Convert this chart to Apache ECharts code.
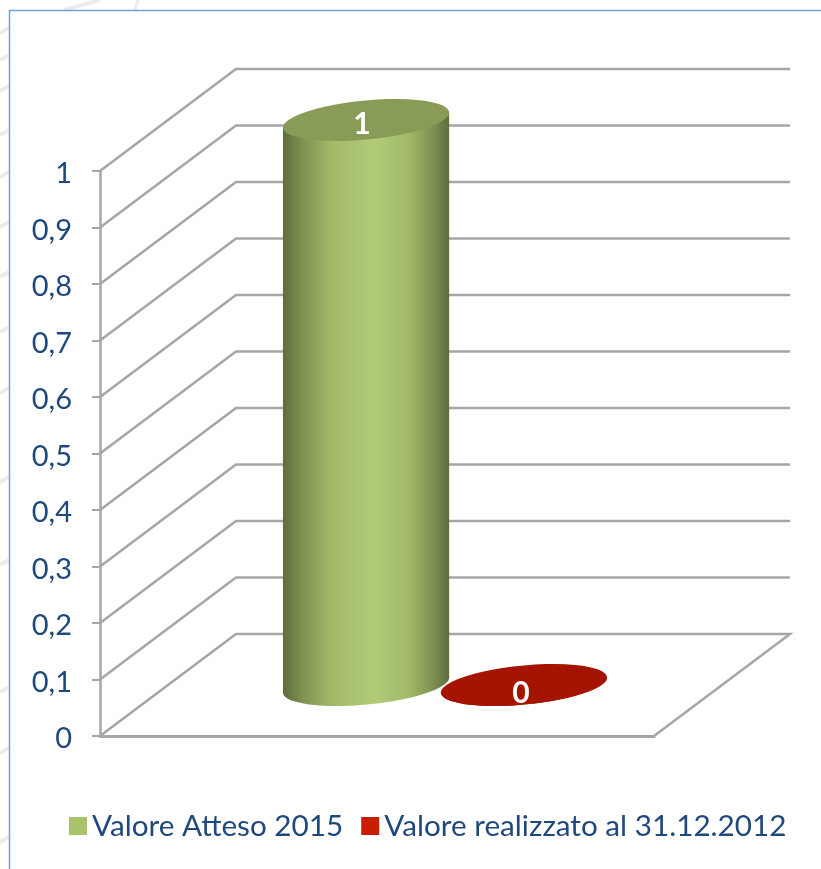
<!DOCTYPE html>
<html>
<head>
<meta charset="utf-8">
<title>Valore Atteso</title>
<script src="https://cdn.jsdelivr.net/npm/echarts@6/dist/echarts.min.js"></script>
<style>
	html, body { margin: 0; padding: 0; background: #fff; }
	#chart { width: 821px; height: 869px; }
</style>
</head>
<body>
<div id="chart"></div>
<script>
// dati
const categories = [''];
const seriesNames = ['Valore Atteso 2015', 'Valore realizzato al 31.12.2012'];
const valoreAtteso = [1];
const valoreRealizzato = [0];
const yTicks = [0, 0.1, 0.2, 0.3, 0.4, 0.5, 0.6, 0.7, 0.8, 0.9, 1];

const textColor = '#1f497d';
const wallColor = '#a6a6a6';
const fontName = 'Lato, "Open Sans", sans-serif';
// profondita' della finta prospettiva 3D, in pixel
const depthX = 136;
const depthY = 102;

let myChart = echarts.init(document.getElementById('chart'));

// pareti: ogni tick diventa una spezzata, il pavimento chiude a 0
function renderWall(params, api) {
	let p = api.coord([0, api.value(1)]);
	let sys = params.coordSys;
	let pts = [
		[sys.x, p[1]],
		[sys.x + depthX, p[1] - depthY],
		[sys.x + sys.width + depthX, p[1] - depthY]
	];
	if (api.value(1) === 0) {
		pts.push([sys.x + sys.width, p[1]]);
	}
	return {
		type: 'polyline',
		shape: { points: pts },
		style: { stroke: wallColor, lineWidth: 2.5, fill: null }
	};
}

// ellisse inclinata attorno a (cx, cy)
function ellipsePoints(cx, cy, a, from, to) {
	let out = [];
	for (let i = 0; i <= 48; i++) {
		let t = from + (to - from) * i / 48;
		out.push([cx + a * Math.cos(t), cy - a * 0.09 * Math.cos(t) + a * 0.236 * Math.sin(t)]);
	}
	return out;
}

function cylinderRenderer(offset, topColor, bodyStops, labelDx, labelDy) {
	return function(params, api) {
		let band = api.size([1, 0])[0];
		let base = api.coord([api.value(0), 0]);
		let top = api.coord([api.value(0), api.value(1)]);
		let cx = base[0] + depthX / 2 + offset * band;
		let a = band * 0.15;
		let yBase = base[1] - depthY / 2;
		let yTop = top[1] - depthY / 2;
		let body = ellipsePoints(cx, yBase, a, 0, Math.PI);
		body.push([cx - a, yTop + a * 0.09], [cx + a, yTop - a * 0.09]);
		return {
			type: 'group',
			children: [
				{
					type: 'polygon',
					shape: { points: body },
					style: {
						fill: new echarts.graphic.LinearGradient(0, 0, 1, 0, bodyStops)
					}
				},
				{
					type: 'polygon',
					shape: { points: ellipsePoints(cx, yTop, a, 0, Math.PI * 2) },
					style: { fill: topColor }
				},
				{
					type: 'text',
					x: cx + labelDx,
					y: yTop + labelDy,
					style: {
						text: String(api.value(1)),
						fill: '#fff',
						font: 'bold 30px ' + fontName,
						textAlign: 'center',
						textVerticalAlign: 'middle'
					}
				}
			]
		};
	};
}

const greenStops = [
	{ offset: 0, color: '#5f6d3c' },
	{ offset: 0.12, color: '#7f9152' },
	{ offset: 0.3, color: '#a3bb69' },
	{ offset: 0.55, color: '#b2cb77' },
	{ offset: 0.75, color: '#a3bb69' },
	{ offset: 0.9, color: '#7f9152' },
	{ offset: 1, color: '#5f6d3c' }
];
const redStops = [
	{ offset: 0, color: '#a51400' },
	{ offset: 1, color: '#a51400' }
];

// strisce grigie dello sfondo, fuori dal pannello
const streakY = [28, 55, 86, 130, 172, 222, 272, 327, 388, 477, 560, 687, 748, 837];
let streaks = streakY.map(function(y) {
	return {
		type: 'line',
		z: 0,
		silent: true,
		shape: { x1: 0, y1: y + 5, x2: 9, y2: y },
		style: { stroke: '#ececec', lineWidth: 4 }
	};
});
streaks.push(
	{
		type: 'line',
		z: 0,
		silent: true,
		shape: { x1: 64, y1: 10, x2: 100, y2: 0 },
		style: { stroke: '#ececec', lineWidth: 4 }
	},
	{
		type: 'line',
		z: 0,
		silent: true,
		shape: { x1: 135, y1: 10, x2: 138, y2: 0 },
		style: { stroke: '#ececec', lineWidth: 3 }
	}
);

let option = {
	animation: false,
	backgroundColor: '#fff',
	grid: {
		left: 100,
		top: 171,
		width: 554,
		height: 565
	},
	legend: {
		left: 64,
		top: 806,
		itemWidth: 18,
		itemHeight: 18,
		itemGap: 18,
		icon: 'rect',
		selectedMode: false,
		data: seriesNames,
		textStyle: {
			color: textColor,
			fontFamily: fontName,
			fontSize: 29.7
		}
	},
	xAxis: {
		type: 'category',
		data: categories,
		axisTick: { show: false },
		axisLabel: { show: false },
		axisLine: { lineStyle: { color: wallColor, width: 3 } }
	},
	yAxis: {
		type: 'value',
		min: 0,
		max: 1,
		interval: 0.1,
		axisLine: { show: true, lineStyle: { color: wallColor, width: 2.5 } },
		axisTick: { show: true, length: 8, lineStyle: { color: wallColor, width: 2 } },
		splitLine: { show: false },
		axisLabel: {
			color: textColor,
			fontFamily: fontName,
			fontSize: 29,
			margin: 28,
			// il testo sta circa 3px sotto la tacca
			verticalAlign: 'top',
			lineHeight: 6,
			formatter: function(v) {
				return String(v).replace('.', ',');
			}
		}
	},
	series: [
		{
			name: 'pareti',
			type: 'custom',
			silent: true,
			z: 1,
			renderItem: renderWall,
			data: yTicks.map(function(v) { return [0, v]; })
		},
		{
			name: seriesNames[0],
			type: 'custom',
			silent: true,
			z: 3,
			itemStyle: { color: '#a9c468' },
			renderItem: cylinderRenderer(-0.1425, '#889c57', greenStops, -4, 4),
			data: valoreAtteso.map(function(v, i) { return [i, v]; })
		},
		{
			name: seriesNames[1],
			type: 'custom',
			silent: true,
			z: 3,
			itemStyle: { color: '#c81e00' },
			renderItem: cylinderRenderer(0.1425, '#a51400', redStops, -3, 8),
			data: valoreRealizzato.map(function(v, i) { return [i, v]; })
		}
	],
	graphic: streaks.concat([
		// cornice azzurra del pannello
		{
			type: 'polyline',
			z: 0,
			silent: true,
			shape: { points: [[9.5, 869], [9.5, 10.5], [821, 10.5]] },
			style: { stroke: '#6fa3d8', lineWidth: 1.5, fill: null }
		}
	])
};

myChart.setOption(option);

window.addEventListener('resize', function() {
	myChart.resize();
});
</script>
</body>
</html>
